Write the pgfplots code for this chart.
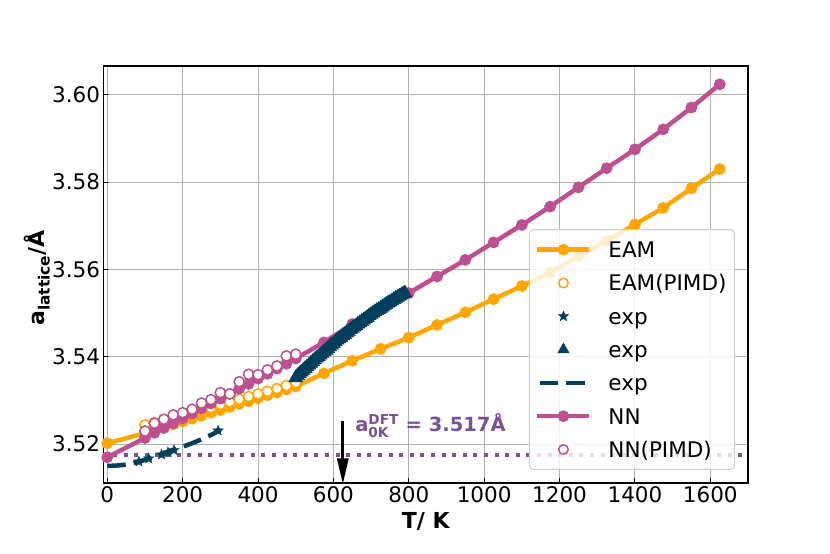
\documentclass[border=0pt]{standalone}
\usepackage{fontspec}
\setmainfont{DejaVu Sans}
\usepackage{amsmath}
\usepackage{pgfplots}
\pgfplotsset{compat=1.18}
\usetikzlibrary{arrows.meta}
\definecolor{eamc}{HTML}{FFA600}
\definecolor{nnc}{HTML}{BC5090}
\definecolor{expc}{HTML}{003F5C}
\definecolor{dftc}{HTML}{7A5195}
\pgfdeclareplotmark{fstar}{%
  \pgfpathmoveto{\pgfpointpolar{90}{\pgfplotmarksize}}%
  \pgfpathlineto{\pgfpointpolar{126}{0.42\pgfplotmarksize}}%
  \pgfpathlineto{\pgfpointpolar{162}{\pgfplotmarksize}}%
  \pgfpathlineto{\pgfpointpolar{198}{0.42\pgfplotmarksize}}%
  \pgfpathlineto{\pgfpointpolar{234}{\pgfplotmarksize}}%
  \pgfpathlineto{\pgfpointpolar{270}{0.42\pgfplotmarksize}}%
  \pgfpathlineto{\pgfpointpolar{306}{\pgfplotmarksize}}%
  \pgfpathlineto{\pgfpointpolar{342}{0.42\pgfplotmarksize}}%
  \pgfpathlineto{\pgfpointpolar{18}{\pgfplotmarksize}}%
  \pgfpathlineto{\pgfpointpolar{54}{0.42\pgfplotmarksize}}%
  \pgfpathclose\pgfusepathqfillstroke}

\begin{document}
\begin{tikzpicture}
\useasboundingbox (-103.5bp,-71bp) rectangle (726.5bp,483bp);
\begin{axis}[
  at={(0,0)}, anchor=south west,
  scale only axis, width=644.5bp, height=417bp,
  xmin=-10, xmax=1700, ymin=3.5111, ymax=3.6066,
  clip=false,
  xtick={0,200,400,600,800,1000,1200,1400,1600},
  ytick={3.52,3.54,3.56,3.58,3.60},
  xtick pos=bottom, ytick pos=left,
  tick align=inside, major tick length=5bp,
  tick style={black, line width=1bp},
  axis line style={black, line width=1.25bp},
  grid=major,
  major grid style={color=black!31, line width=1bp},
  /pgf/number format/assume math mode=true,
  ticklabel style={font=\fontsize{21.5bp}{25bp}\selectfont},
  xticklabel style={/pgf/number format/1000 sep={}},
  yticklabel style={/pgf/number format/fixed, /pgf/number format/fixed zerofill, /pgf/number format/precision=2},
  label style={font=\fontsize{22bp}{26bp}\selectfont\bfseries},
  xlabel={T/ K},
  ylabel={a$_{\text{lattice}}$/Å},
  xlabel style={at={(axis description cs:0.5,-0.0935)}, anchor=center},
  ylabel style={at={(axis description cs:-0.103,0.492)}, anchor=center},
  legend image code/.code={\draw[sharp corners, fill opacity=1, mark repeat=2, mark phase=2, #1] plot coordinates {(0bp,0bp) (23.75bp,0bp) (47.5bp,0bp)};},
  legend cell align=left,
  legend style={at={(axis description cs:0.9798,0.0312)}, anchor=south east,
    fill=white, fill opacity=0.8, text opacity=1, draw=black!20, line width=1bp,
    rounded corners=4bp, inner xsep=8bp, inner ysep=8bp,
    font=\fontsize{21.5bp}{25bp}\selectfont,
    row sep=9.3bp, column sep=19bp,
    nodes={inner xsep=0pt, inner ysep=4.15bp, text height=15.7bp, text depth=0bp}},
]
% DFT reference line
\addplot[dftc, line width=4bp, dash pattern=on 4bp off 6.6bp, forget plot] coordinates {(15,3.5175) (1700,3.5175)};
% EAM
\addplot[eamc, line width=4.5bp, mark=*, mark size=5.4bp, mark options={solid, line width=1bp}, forget plot] coordinates {
(0,3.5202) (100,3.5225) (125,3.5232) (150,3.5238) (175,3.5245) (200,3.5252) (225,3.5258) (250,3.5265)
(275,3.5272) (300,3.5278) (325,3.5285) (350,3.5292) (375,3.5298) (400,3.5305) (425,3.5312) (450,3.5318)
(475,3.5325) (500,3.5332) (575,3.5362) (650,3.5391) (725,3.5418) (800,3.5444) (875,3.5473) (950,3.5502)
(1025,3.5532) (1100,3.5562) (1175,3.5593) (1250,3.5630) (1325,3.5666) (1400,3.5703) (1475,3.5741)
(1550,3.5786) (1625,3.5830)};
% EAM PIMD
\addplot[only marks, mark=*, mark size=5.1bp, mark options={fill=white, draw=eamc, line width=1.5bp}, forget plot] coordinates {
(100,3.5244) (125,3.5249) (150,3.5254) (175,3.5260) (200,3.5266) (225,3.5272) (250,3.5278) (275,3.5284)
(300,3.5291) (325,3.5297) (350,3.5303) (375,3.5309) (400,3.5315) (425,3.5321) (450,3.5327) (475,3.5334) (500,3.5341)};
% NN
\addplot[nnc, line width=4.5bp, mark=*, mark size=5.4bp, mark options={solid, line width=1bp}, forget plot] coordinates {
(0,3.5170) (100,3.5214) (125,3.5226) (150,3.5237) (175,3.5248) (200,3.5259) (225,3.5270) (250,3.5282)
(275,3.5293) (300,3.5304) (325,3.5315) (350,3.5327) (375,3.5338) (400,3.5350) (425,3.5361) (450,3.5373)
(475,3.5384) (500,3.5396) (575,3.5433) (650,3.5475) (725,3.5510) (800,3.5546) (875,3.5584) (950,3.5622)
(1025,3.5662) (1100,3.5702) (1175,3.5744) (1250,3.5788) (1325,3.5832) (1400,3.5875) (1475,3.5921)
(1550,3.5971) (1625,3.6024)};
% NN PIMD
\addplot[only marks, mark=*, mark size=5.1bp, mark options={fill=white, draw=nnc, line width=1.5bp}, forget plot] coordinates {
(100,3.5230) (125,3.5248) (150,3.5257) (175,3.5267) (200,3.5272) (225,3.5280) (250,3.5294) (275,3.5302)
(300,3.5318) (325,3.5315) (350,3.5343) (375,3.5360) (400,3.5359) (425,3.5370) (450,3.5379) (475,3.5402) (500,3.5406)};
% exp dashed
\addplot[expc, line width=4.5bp, dash pattern=on 18.5bp off 8bp, forget plot] coordinates {
(0,3.5150) (25,3.5151) (50,3.5153) (75,3.5158) (100,3.5164) (125,3.5171) (150,3.5178) (175,3.5186)
(200,3.5194) (225,3.5202) (250,3.5211) (275,3.5221) (300,3.5232)};
% exp stars
\addplot[only marks, mark=fstar, mark size=5.3bp, mark options={fill=expc, draw=expc, line width=0.5bp}, forget plot] coordinates {
(84,3.5160) (110,3.5167) (144,3.5176) (161,3.5181) (177,3.5186) (294,3.5231)};
% exp triangles
\addplot[only marks, mark=triangle*, mark size=8bp, mark options={fill=expc, draw=expc, line width=0.5bp}, forget plot] coordinates {
(500,3.5352) (505,3.5357) (510,3.5361) (515,3.5365) (520,3.5369) (525,3.5373) (530,3.5377) (535,3.5381)
(540,3.5385) (545,3.5389) (550,3.5393) (555,3.5397) (560,3.5400) (565,3.5404) (570,3.5408) (575,3.5412)
(580,3.5415) (585,3.5419) (590,3.5423) (595,3.5427) (600,3.5430) (605,3.5434) (610,3.5438) (615,3.5441)
(620,3.5444) (625,3.5448) (630,3.5451) (635,3.5455) (640,3.5458) (645,3.5462) (650,3.5465) (655,3.5468)
(660,3.5471) (665,3.5475) (670,3.5478) (675,3.5481) (680,3.5484) (685,3.5487) (690,3.5490) (695,3.5494)
(700,3.5497) (705,3.5500) (710,3.5503) (715,3.5506) (720,3.5508) (725,3.5511) (730,3.5514) (735,3.5517)
(740,3.5520) (745,3.5523) (750,3.5525) (755,3.5528) (760,3.5531) (765,3.5534) (770,3.5536) (775,3.5539)
(780,3.5541) (785,3.5544) (790,3.5546)};
% annotation
\draw[black, line width=3bp, -{Triangle[length=26bp,width=11bp]}] (axis cs:625,3.5252) -- (axis cs:625,3.5108);
\node[anchor=base west, inner sep=0pt, text=dftc, font=\fontsize{19.5bp}{23bp}\selectfont\bfseries] at (axis cs:657.5,3.52288) {a$^{\text{DFT}}_{\text{0K}}$ = 3.517Å};
% legend
\addlegendimage{eamc, line width=4.5bp, line cap=rect, mark=*, mark size=5.4bp, mark options={solid, line width=1bp}}
\addlegendentry{EAM}
\addlegendimage{only marks, mark=*, mark size=4.75bp, mark options={fill=white, draw=eamc, line width=1.5bp}}
\addlegendentry{EAM(PIMD)}
\addlegendimage{only marks, mark=fstar, mark size=5.3bp, mark options={fill=expc, draw=expc, line width=0.5bp}}
\addlegendentry{exp}
\addlegendimage{only marks, mark=triangle*, mark size=6.5bp, mark options={fill=expc, draw=expc, line width=0.5bp}}
\addlegendentry{exp}
\addlegendimage{expc, line width=4.5bp, dash pattern=on 18.5bp off 8bp}
\addlegendentry{exp}
\addlegendimage{nnc, line width=4.5bp, line cap=rect, mark=*, mark size=5.4bp, mark options={solid, line width=1bp}}
\addlegendentry{NN}
\addlegendimage{only marks, mark=*, mark size=4.75bp, mark options={fill=white, draw=nnc, line width=1.5bp}}
\addlegendentry{NN(PIMD)}
\end{axis}
\end{tikzpicture}
\end{document}
